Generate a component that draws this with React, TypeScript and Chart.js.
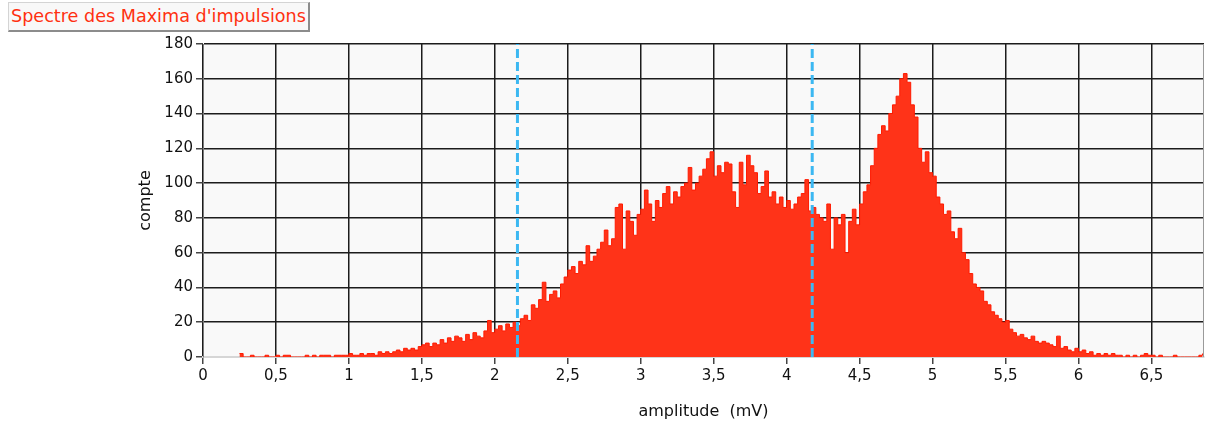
import { useEffect, useRef } from 'react';
import { Chart, registerables } from 'chart.js';

Chart.register(...registerables);

// Histogram bins: start of first bin and bin width (mV)
const BIN_START = 0.25;
const BIN_WIDTH = 0.025;

// Counts per bin (0.25 mV .. 6.85 mV)
const COUNTS_LOW = [
  2, 0, 0, 1, 0, 0, 0, 1, 0, 0, // 0.25
  1, 0, 1, 1, 0, 0, 0, 0, 1, 0, // 0.50
  1, 0, 1, 1, 1, 0, 1, 1, 1, 1, // 0.75
  2, 1, 1, 2, 1, 2, 2, 1, 3, 2, // 1.00
  3, 2, 3, 4, 3, 5, 4, 5, 4, 6, // 1.25
  7, 8, 6, 8, 7, 10, 8, 11, 9, 12, // 1.50
  11, 9, 13, 10, 14, 12, 11, 15, 21, 14, // 1.75
  16, 18, 15, 19, 17, 20, 18, 22, 24, 21, // 2.00
];
const COUNTS_MID = [
  30, 28, 33, 43, 32, 36, 38, 34, 42, 46, // 2.25
  50, 52, 48, 55, 53, 64, 55, 58, 62, 66, // 2.50
  73, 64, 68, 86, 88, 62, 84, 78, 70, 82, // 2.75
  85, 96, 88, 78, 90, 86, 94, 98, 88, 95, // 3.00
  92, 98, 100, 109, 96, 100, 104, 108, 114, 118, // 3.25
  104, 110, 106, 112, 111, 95, 86, 112, 99, 116, // 3.50
  110, 106, 94, 98, 107, 92, 95, 88, 92, 86, // 3.75
  90, 85, 88, 92, 94, 102, 84, 86, 82, 80, // 4.00
  78, 88, 62, 80, 76, 82, 60, 78, 85, 76, // 4.25
];
const COUNTS_HIGH = [
  88, 95, 99, 110, 120, 128, 133, 130, 140, 145, // 4.50
  150, 160, 163, 158, 145, 138, 120, 112, 118, 106, // 4.75
  104, 92, 88, 82, 84, 72, 68, 74, 60, 56, // 5.00
  48, 42, 40, 38, 32, 30, 26, 24, 22, 20, // 5.25
  21, 16, 14, 12, 13, 11, 10, 12, 9, 8, // 5.50
  9, 8, 7, 6, 12, 5, 6, 4, 3, 5, // 5.75
  3, 4, 2, 3, 1, 2, 1, 2, 1, 2, // 6.00
  1, 1, 0, 1, 0, 1, 0, 1, 2, 1, // 6.25
  1, 0, 1, 0, 0, 0, 1, 0, 0, 0, // 6.50
  0, 0, 0, 1, 2, // 6.75
];

// Dashed threshold markers (mV)
const MARKERS = [2.155, 4.175];

// Axis ranges
const X_MIN = 0;
const X_MAX = 6.86;
const X_STEP = 0.5;
const Y_MIN = 0;
const Y_MAX = 180;
const Y_STEP = 20;

const TITLE = "Spectre des Maxima d'impulsions";
const X_TITLE = 'amplitude  (mV)';
const Y_TITLE = 'compte';

const plotBg = {
  id: 'plotBg',
  beforeDraw(chart: any) {
    const { ctx, chartArea: a } = chart;
    ctx.save();
    ctx.fillStyle = '#f9f9f9';
    ctx.fillRect(a.left, a.top, a.right - a.left, a.bottom - a.top);
    ctx.restore();
  },
  afterDraw(chart: any) {
    const { ctx, chartArea: a } = chart;
    ctx.save();
    ctx.strokeStyle = '#9a9a9a';
    ctx.lineWidth = 1;
    ctx.beginPath();
    ctx.moveTo(Math.round(a.right) - 0.5, a.top);
    ctx.lineTo(Math.round(a.right) - 0.5, a.bottom);
    ctx.stroke();
    ctx.restore();
  },
};

export default function App() {
  const canvasRef = useRef<HTMLCanvasElement | null>(null);

  useEffect(() => {
    if (!canvasRef.current) return;
    const counts = [...COUNTS_LOW, ...COUNTS_MID, ...COUNTS_HIGH];
    const histo = counts.map((c, i) => ({
      x: +(BIN_START + i * BIN_WIDTH).toFixed(4),
      y: c,
    }));
    const markerSets = MARKERS.map((m) => ({
      type: 'line' as const,
      data: [
        { x: m, y: Y_MIN },
        { x: m, y: Y_MAX },
      ],
      borderColor: '#3cb8f2',
      borderWidth: 3,
      borderDash: [9, 4],
      pointRadius: 0,
      fill: false,
      order: 0,
    }));
    const font = { family: 'DejaVu Sans', size: 15 };
    const titleFont = { family: 'DejaVu Sans', size: 16 };
    const chart = new Chart(canvasRef.current, {
      type: 'line',
      data: {
        datasets: [
          {
            data: histo,
            stepped: true,
            fill: 'origin',
            backgroundColor: '#ff3318',
            borderColor: '#ff1a00',
            borderWidth: 1,
            pointRadius: 0,
            tension: 0,
            order: 1,
          },
          ...markerSets,
        ] as any,
      },
      options: {
        animation: false,
        responsive: true,
        maintainAspectRatio: false,
        layout: { padding: { left: 134, top: 44, right: 4, bottom: 0 } },
        plugins: {
          legend: { display: false },
          tooltip: { enabled: false },
          title: { display: false },
        },
        scales: {
          x: {
            type: 'linear',
            min: X_MIN,
            max: X_MAX,
            ticks: {
              stepSize: X_STEP,
              includeBounds: false,
              autoSkip: false,
              maxRotation: 0,
              padding: 3,
              color: '#111',
              font,
              callback: (v: any) => String(v).replace('.', ','),
            },
            grid: {
              color: '#1c1c1c',
              lineWidth: 1.5,
              tickLength: 7,
              tickColor: '#444',
            },
            border: { color: '#d6d6d6', width: 2 },
            title: {
              display: true,
              text: X_TITLE,
              color: '#111',
              font: titleFont,
              padding: { top: 0, bottom: 4 },
            },
            afterFit: (s: any) => {
              s.height = 68;
            },
          },
          y: {
            type: 'linear',
            min: Y_MIN,
            max: Y_MAX,
            ticks: {
              stepSize: Y_STEP,
              padding: 3,
              color: '#111',
              font,
            },
            grid: {
              color: '#1c1c1c',
              lineWidth: 1.5,
              tickLength: 7,
              tickColor: '#444',
            },
            border: { color: '#7a7a7a', width: 1 },
            title: {
              display: true,
              text: Y_TITLE,
              color: '#111',
              font: titleFont,
              padding: { top: 2, bottom: 0 },
            },
            afterFit: (s: any) => {
              s.width = 69;
            },
          },
        },
      },
      plugins: [plotBg],
    });
    return () => chart.destroy();
  }, []);

  return (
    <div
      style={{
        position: 'fixed',
        left: 0,
        top: 0,
        width: 1208,
        height: 425,
        background: '#fff',
      }}
    >
      <canvas ref={canvasRef} />
      <div
        style={{
          position: 'absolute',
          left: 8,
          top: 2,
          height: 27,
          lineHeight: '27px',
          padding: '0 2px',
          background: '#f8f8f8',
          borderTop: '1px solid #d4d4d4',
          borderLeft: '1px solid #d4d4d4',
          borderRight: '2px solid #8c8c8c',
          borderBottom: '2px solid #8c8c8c',
          color: '#ff3010',
          fontFamily: 'DejaVu Sans',
          fontSize: 17.6,
          whiteSpace: 'nowrap',
        }}
      >
        {TITLE}
      </div>
    </div>
  );
}
